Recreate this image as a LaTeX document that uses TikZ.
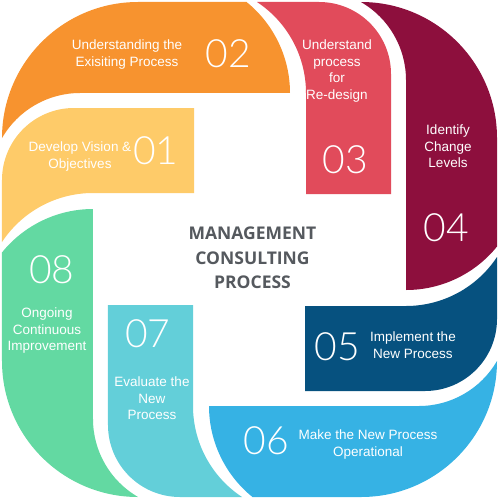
\documentclass[tikz,border=0pt]{standalone}
\usepackage{fontspec}
\setmainfont{Liberation Sans}
\newfontfamily\titlefont{Open Sans}
\newfontfamily\numfont{Lato Light}
\definecolor{cyellow}{HTML}{FECB69}
\definecolor{corange}{HTML}{F7932F}
\definecolor{cred}{HTML}{E14B5B}
\definecolor{cmaroon}{HTML}{8D0F3D}
\definecolor{cnavy}{HTML}{06517F}
\definecolor{cblue}{HTML}{36B2E4}
\definecolor{cteal}{HTML}{63CFD9}
\definecolor{cgreen}{HTML}{63D9A2}
\definecolor{ctitle}{HTML}{55595E}
% outer piece of a corner pair (drawn for the top-left corner, rotated for the others)
\newcommand\outerpiece{(-247.5,111.5) arc[start angle=180,end angle=90,radius=136] -- ([shift={(-76.5,156.5)}]51.07:117) arc[start angle=51.07,end angle=0,radius=117] -- (-169.5,156.5) arc[start angle=90,end angle=150,radius=90] -- cycle}
% inner piece of a corner pair
\newcommand\innerpiece{(-247.5,7.5) -- (-247.5,69.5) arc[start angle=180,end angle=90,radius=72] -- (-55.5,141.5) -- (-55.5,56.5) -- (-156.5,56.5) arc[start angle=90,end angle=146.6,radius=109] -- cycle}
\tikzset{
  piece/.style={fill=#1},
  lbl/.style={text=white, align=center, inner sep=0pt, anchor=north, font=\fontsize{13.5}{16.5}\selectfont},
  num/.style={text=white, inner sep=0pt, font=\numfont\fontsize{39}{39}\selectfont},
  ttl/.style={text=ctitle, align=center, inner sep=0pt, anchor=north, font=\titlefont\bfseries\fontsize{17.5}{24.5}\selectfont}
}
\begin{document}
\begin{tikzpicture}[x=1pt,y=1pt]
\useasboundingbox (-249.5,-248.5) rectangle (252.5,249.5);
\fill[piece=cyellow] \innerpiece;
\fill[piece=corange] \outerpiece;
\fill[piece=cred, rotate=-90] \innerpiece;
\fill[piece=cmaroon, rotate=-90] \outerpiece;
\fill[piece=cnavy, rotate=180] \innerpiece;
\fill[piece=cblue, rotate=180] \outerpiece;
\fill[piece=cteal, rotate=90] \innerpiece;
\fill[piece=cgreen, rotate=90] \outerpiece;
\begin{scope}[shift={(-249.5,249.5)}, yscale=-1]
\node[ttl] (title) at (252.5,227) {MANAGEMENT\\CONSULTING\\PROCESS};
\node[lbl] (l01) at (80,142) {Develop Vision \&\\Objectives};
\node[num] (n01) at (156,151) {01};
\node[lbl] (l02) at (127,40) {Understanding the\\Exisiting Process};
\node[num] (n02) at (228,54) {02};
\node[lbl] (l03) at (337,40) {Understand\\process\\for\\Re-design};
\node[num] (n03) at (345,160) {03};
\node[lbl] (l04) at (448,125) {Identify\\Change\\Levels};
\node[num] (n04) at (446,228) {04};
\node[lbl] (l05) at (413,332) {Implement the\\New Process};
\node[num] (n05) at (337,347) {05};
\node[lbl] (l06) at (368,430) {Make the New Process\\Operational};
\node[num] (n06) at (266,441) {06};
\node[lbl] (l07) at (152,377) {Evaluate the\\New\\Process};
\node[num] (n07) at (148,334) {07};
\node[lbl] (l08) at (47,308) {Ongoing\\Continuous\\Improvement};
\node[num] (n08) at (52,270) {08};
\end{scope}
\end{tikzpicture}
\end{document}
